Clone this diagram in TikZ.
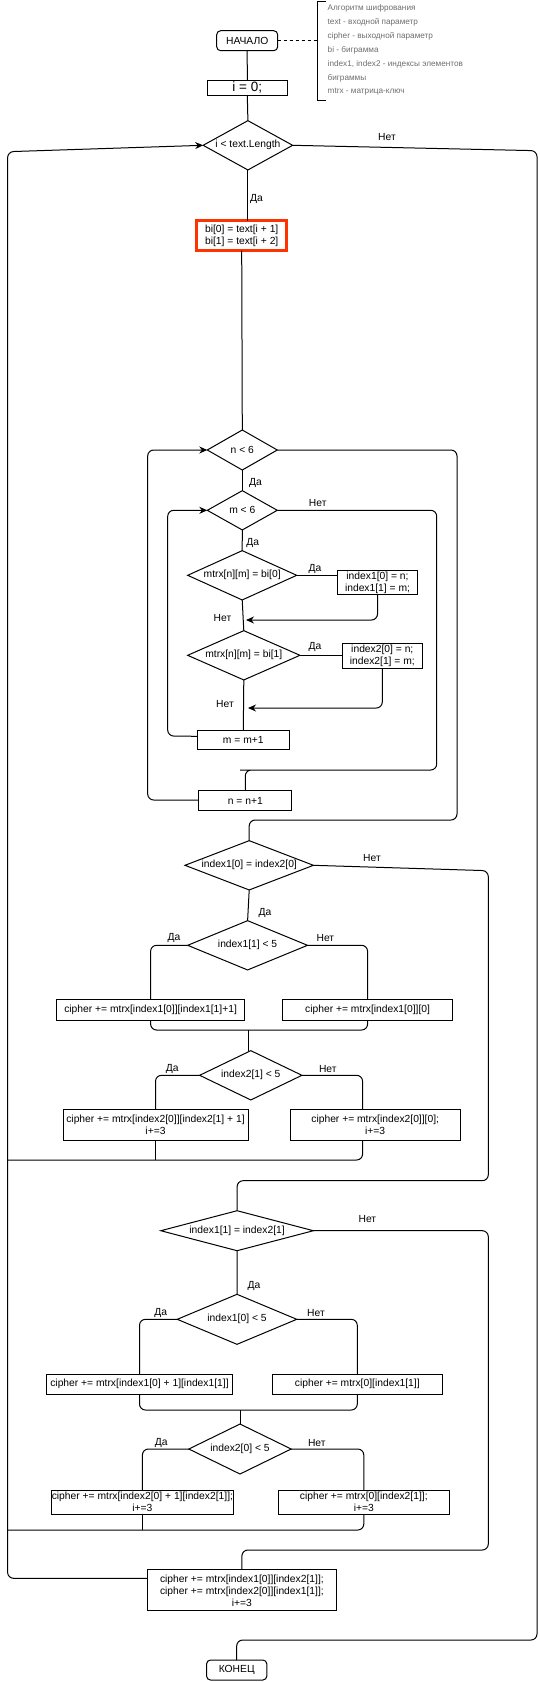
\documentclass[tikz,border=0pt]{standalone}
\usepackage{fontspec}
\setmainfont{Liberation Sans}
\usetikzlibrary{shapes.geometric,arrows.meta,calc}
\definecolor{hl}{RGB}{255,51,0}
\definecolor{annot}{RGB}{110,110,110}
\begin{document}
\begin{tikzpicture}[x=1pt,y=-1pt,
  every node/.style={inner sep=0pt, outer sep=0pt, font=\fontsize{10.3}{12}\selectfont},
  box/.style={draw, line width=1pt, rectangle, align=center},
  term/.style={box, rounded corners=4pt},
  dia/.style={draw, line width=1pt, diamond, inner sep=0pt},
  lbl/.style={font=\fontsize{10.3}{12}\selectfont},
  note/.style={anchor=west, text=annot, font=\fontsize{8.2}{10}\selectfont},
  conn/.style={line width=1pt, rounded corners=6pt},
  arr/.style={conn, -{Stealth[length=8pt,width=7pt]}},
]
\useasboundingbox (0,0) rectangle (539,1682);

% ---- nodes ----
\node[term, minimum width=61pt, minimum height=20pt] (start) at (247.2,40.7) {НАЧАЛО};
\node[box, minimum width=80pt, minimum height=15pt, font=\fontsize{13.5}{15}\selectfont] (init) at (247.3,87.5) {i = 0;};
\node[dia, minimum width=89.5pt, minimum height=49.3pt] (c1) at (247.9,145.3) {};
\node (c1t) at (c1) {i < text.Length};
\node[box, draw=hl, line width=3pt, minimum width=90pt, minimum height=30pt] (bi) at (241.7,235.5) {bi[0] = text[i + 1]\\bi[1] = text[i + 2]};

\node[dia, minimum width=70pt, minimum height=40pt] (n6) at (242.3,450) {};
\node (n6t) at (n6) {n < 6};
\node[dia, minimum width=70pt, minimum height=39.3pt] (m6) at (242.3,510.3) {};
\node (m6t) at (m6) {m < 6};
\node[dia, minimum width=109pt, minimum height=49.3pt] (b0) at (242.2,575.3) {};
\node (b0t) at (b0) {mtrx[n][m] = bi[0]};
\node[box, minimum width=80.4pt, minimum height=24.3pt] (idx1) at (377.5,582.8) {index1[0] = n;\\index1[1] = m;};
\node[dia, minimum width=112.3pt, minimum height=49.3pt] (b1) at (243.8,655.3) {};
\node (b1t) at (b1) {mtrx[n][m] = bi[1]};
\node[box, minimum width=80pt, minimum height=25pt] (idx2) at (382.3,655.8) {index2[0] = n;\\index2[1] = m;};
\node[box, minimum width=92pt, minimum height=19.3pt] (mbox) at (243.3,740.3) {m = m+1};
\node[box, minimum width=92.7pt, minimum height=20pt] (nbox) at (245.3,800.7) {n = n+1};

\node[dia, minimum width=128.4pt, minimum height=49.3pt] (d1) at (249.2,865.3) {};
\node (d1t) at (d1) {index1[0] = index2[0]};
\node[dia, minimum width=119.8pt, minimum height=49.3pt] (d2) at (247.6,945.3) {};
\node (d2t) at (d2) {index1[1] < 5};
\node[box, minimum width=187.7pt, minimum height=20.7pt] (bL1) at (150.6,1010.3) {cipher += mtrx[index1[0]][index1[1]+1]};
\node[box, minimum width=170.4pt, minimum height=20.7pt] (bR1) at (367.6,1010.3) {cipher += mtrx[index1[0]][0]};
\node[dia, minimum width=102.3pt, minimum height=49.3pt] (d3) at (250.8,1075.3) {};
\node (d3t) at (d3) {index2[1] < 5};
\node[box, minimum width=185pt, minimum height=30.7pt] (bL2) at (155.5,1124.7) {cipher += mtrx[index2[0]][index2[1] + 1]\\i+=3};
\node[box, minimum width=170.4pt, minimum height=30.7pt] (bR2) at (375.2,1124.7) {cipher += mtrx[index2[0]][0];\\i+=3};

\node[dia, minimum width=152.6pt, minimum height=40pt] (d4) at (237.1,1230.7) {};
\node (d4t) at (d4) {index1[1] = index2[1]};
\node[dia, minimum width=119.5pt, minimum height=50pt] (d5) at (237,1319.3) {};
\node (d5t) at (d5) {index1[0] < 5};
\node[box, minimum width=186pt, minimum height=20pt] (bL3) at (139.5,1384.3) {cipher += mtrx[index1[0] + 1][index1[1]]};
\node[box, minimum width=170.5pt, minimum height=20pt] (bR3) at (357.3,1384.3) {cipher += mtrx[0][index1[1]]};
\node[dia, minimum width=102.3pt, minimum height=50pt] (d6) at (240,1449) {};
\node (d6t) at (d6) {index2[0] < 5};
\node[box, minimum width=181.4pt, minimum height=24.3pt] (bL4) at (142.4,1502.2) {cipher += mtrx[index2[0] + 1][index2[1]];\\i+=3};
\node[box, minimum width=171.2pt, minimum height=24.3pt] (bR4) at (363.8,1502.2) {cipher += mtrx[0][index2[1]];\\i+=3};
\node[box, minimum width=189.8pt, minimum height=40.7pt] (final) at (241.9,1590.3) {cipher += mtrx[index1[0]][index2[1]];\\cipher += mtrx[index2[0]][index1[1]];\\i+=3};
\node[term, minimum width=60.3pt, minimum height=20pt] (end) at (236.7,1670) {КОНЕЦ};

% ---- annotation ----
\coordinate (brk) at (317,40.7);
\draw[line width=1pt, dash pattern=on 3pt off 3pt] (start.east) -- (brk);
\draw[line width=1pt] (326,1) -- (317,1) -- (317,100) -- (326,100);
\node[note] (a1) at (327.7,8.3) {Алгоритм шифрования};
\node[note] (a2) at (327.7,22.7) {text - входной параметр};
\node[note] (a3) at (327.7,36) {cipher - выходной параметр};
\node[note] (a4) at (327.7,50.7) {bi - биграмма};
\node[note] (a5) at (327.7,64) {index1, index2 - индексы элементов};
\node[note] (a6) at (327.7,78.7) {биграммы};
\node[note] (a7) at (327.7,91.7) {mtrx - матрица-ключ};

% ---- coordinates ----
\coordinate (j1) at (246,620);
\coordinate (j2) at (248,708);
\coordinate (m1) at (248.6,1030);
\coordinate (m3) at (240,1410);
\coordinate (lb1) at (7.6,1160);
\coordinate (lb2) at (7.6,1530);

% ---- connectors ----
\draw[conn] (start.south) -- (init.north);
\draw[conn] (init.south) -- (c1.north);
\draw[conn] (c1.south) -- (c1.south |- bi.north);
\draw[conn] (bi.south) -- (n6.north);
\draw[conn] (n6.south) -- (m6.north);
\draw[conn] (m6.south) -- (b0.north);
\draw[conn] (b0.east) -- (b0.east -| idx1.west);
\draw[arr] (idx1.south) |- (j1);
\draw[conn] (b0.south) -- (b1.north);
\draw[conn] (b1.east) -- (b1.east -| idx2.west);
\draw[arr] (idx2.south) |- (j2);
\draw[conn] (b1.south) -- (mbox.north);
\draw[arr] ([yshift=4pt]mbox.west) -- (167.7,736) -- (167.7,510.3) -- (m6.west);
\draw[conn] (m6.east) -- (436.7,510.3) -- (436.7,770) -- (246,770) -| (nbox.north);
\draw[arr] ([yshift=0.7pt]nbox.west) -- (147.7,800) -- (147.7,450) -- (n6.west);
\draw[conn] (n6.east) -- (457,450) -- (457,820) -| (d1.north);
\draw[conn] (c1.east) -- (537,150.7) -- (537,1640) -| (end.north);
\draw[arr] ([yshift=12pt]final.west) -- (7.6,1578.3) -- (7.6,151.7) -- (c1.west);

\draw[conn] (d1.east) -- (488.3,870.7) -- (488.3,1180.7) -| (d4.north);
\draw[conn] (d4.east) -- (488.3,1230.7) -- (488.3,1550) -| (final.north);
\draw[conn] (d1.south) -- (d2.north);
\draw[conn] (d2.west) -| (bL1.north);
\draw[conn] (d2.east) -| (bR1.north);
\draw[conn] (bL1.south) -- (150.6,1030) -- (367.6,1030) -- (bR1.south);
\draw[conn] (m1) -- (m1 |- d3.north);
\draw[conn] (d3.west) -| (bL2.north);
\draw[conn] (d3.east) -| ([xshift=-12.6pt]bR2.north);
\draw[conn] (bL2.south) -- (bL2.south |- lb1);
\draw[conn] ([xshift=-12.6pt]bR2.south) -- (362.6,1160) -- (lb1);
\draw[conn] (d4.south) -- (d5.north);
\draw[conn] (d5.west) -| (bL3.north);
\draw[conn] (d5.east) -| (bR3.north);
\draw[conn] (bL3.south) -- (139.5,1410) -- (357.3,1410) -- (bR3.south);
\draw[conn] (m3) -- (d6.north);
\draw[conn] (d6.west) -| (bL4.north);
\draw[conn] (d6.east) -| (bR4.north);
\draw[conn] (bL4.south) -- (bL4.south |- lb2);
\draw[conn] (bR4.south) -- (363.8,1530) -- (lb2);

% ---- labels ----
\node[lbl] (l1) at (387,136.7) {Нет};
\node[lbl] (l2) at (256.5,199.3) {Да};
\node[lbl] (l3) at (255.5,483.3) {Да};
\node[lbl] (l4) at (317.7,503.3) {Нет};
\node[lbl] (l5) at (252.8,543.3) {Да};
\node[lbl] (l6) at (315,569.3) {Да};
\node[lbl] (l7) at (222.5,618) {Нет};
\node[lbl] (l8) at (315,647.3) {Да};
\node[lbl] (l9) at (225,704) {Нет};
\node[lbl] (l10) at (372,857.7) {Нет};
\node[lbl] (l11) at (265,912.7) {Да};
\node[lbl] (l12) at (174,938.3) {Да};
\node[lbl] (l13) at (325.4,938.3) {Нет};
\node[lbl] (l14) at (172.2,1069.3) {Да};
\node[lbl] (l15) at (327.8,1069.3) {Нет};
\node[lbl] (l16) at (367.4,1219) {Нет};
\node[lbl] (l17) at (254,1286) {Да};
\node[lbl] (l18) at (160.8,1313.3) {Да};
\node[lbl] (l19) at (316,1313.3) {Нет};
\node[lbl] (l20) at (161.2,1442.7) {Да};
\node[lbl] (l21) at (316.8,1442.7) {Нет};
\end{tikzpicture}
\end{document}
